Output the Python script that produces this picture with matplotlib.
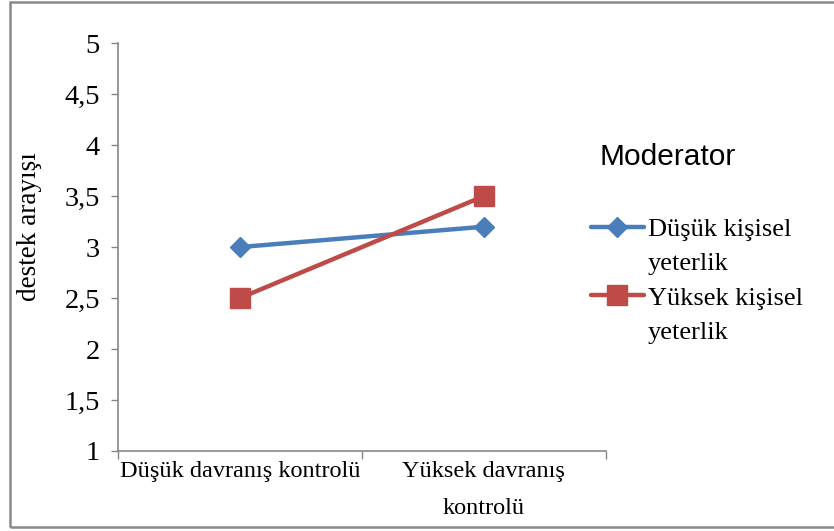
import matplotlib.pyplot as plt
from matplotlib.lines import Line2D
from matplotlib.patches import Rectangle
from matplotlib.ticker import FuncFormatter, FixedLocator

plt.rcParams['font.family'] = ['Liberation Serif', 'DejaVu Serif']

# ----- data -----
categories = ['Düşük davranış kontrolü', 'Yüksek davranış\nkontrolü']
dusuk_kisisel = [3.0, 3.2]
yuksek_kisisel = [2.5, 3.5]
series_labels = [['Düşük kişisel', 'yeterlik'], ['Yüksek kişisel', 'yeterlik']]
y_ticks = [1, 1.5, 2, 2.5, 3, 3.5, 4, 4.5, 5]

blue = '#4a7ebb'
red = '#be4b48'
axis_gray = '#868686'

fig = plt.figure(figsize=(8.34, 5.31), dpi=100)
ax = fig.add_axes([0.1415, 0.1507, 0.585, 0.768])

x = list(range(len(categories)))
l1, = ax.plot(x, dusuk_kisisel, color=blue, lw=3.2, marker='D', ms=10,
              solid_capstyle='round')
l2, = ax.plot(x, yuksek_kisisel, color=red, lw=3.2, marker='s', ms=14,
              solid_capstyle='round')

ax.set_xlim(-0.5, len(categories) - 0.5)
ax.set_ylim(1, 5)
ax.set_yticks(y_ticks)
ax.yaxis.set_major_formatter(FuncFormatter(lambda v, p: ('%g' % v).replace('.', ',')))
ax.tick_params(axis='y', labelsize=20.5, length=5, width=1, color=axis_gray, pad=8)

# category labels between boundary ticks
ax.xaxis.set_major_locator(FixedLocator([-0.5, 0.5, 1.5]))
ax.set_xticklabels([])
ax.set_xticks(x, minor=True)
ax.set_xticklabels(categories, minor=True, fontsize=17.5, linespacing=2.0)
ax.tick_params(axis='x', which='major', length=6, width=1, color=axis_gray)
ax.tick_params(axis='x', which='minor', length=0, pad=7)

for side in ['top', 'right']:
    ax.spines[side].set_visible(False)
for side in ['left', 'bottom']:
    ax.spines[side].set_color(axis_gray)
    ax.spines[side].set_linewidth(1.2)

ax.set_ylabel('destek arayışı', fontsize=19.5)
ax.yaxis.set_label_coords(-0.155, 0.55)

# legend: second text line as an entry with an empty handle
blank = Line2D([], [], color='none')
handles, labels = [], []
for h, lab in zip([l1, l2], series_labels):
    handles += [h, blank]
    labels += lab

fig.text(0.719, 0.705, 'Moderator', fontsize=21.5, family='Liberation Sans', va='center')
leg = fig.legend(handles, labels, loc='upper left', bbox_to_anchor=(0.68, 0.635),
                 frameon=False, fontsize=19, handlelength=2.0, handletextpad=0.15,
                 labelspacing=0.41)

# outer chart border
fig.add_artist(Rectangle((0.012, 0.007), 0.995, 0.99, transform=fig.transFigure,
                         fill=False, edgecolor='#898989', lw=1.8))

fig.savefig('out.png', dpi=100)
